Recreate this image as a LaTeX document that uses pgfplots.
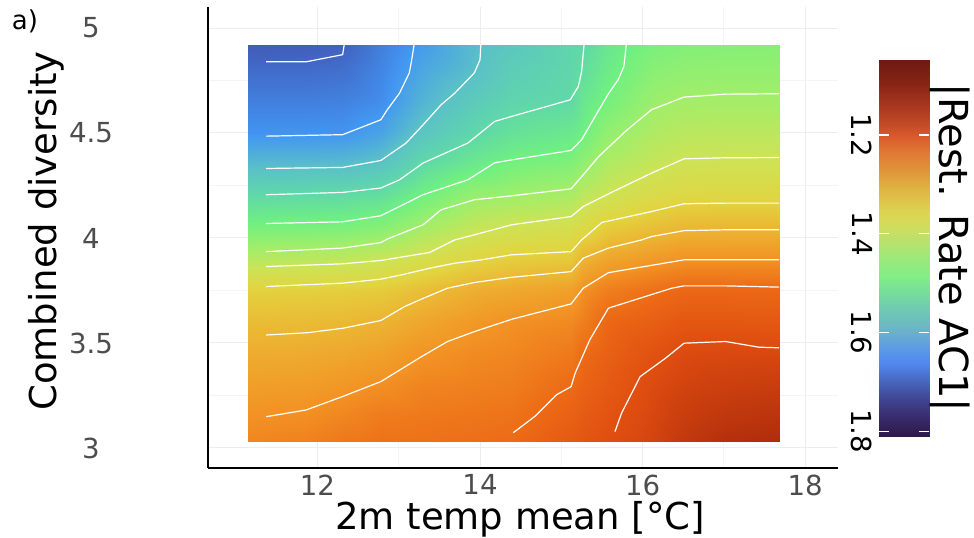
\documentclass[border=0pt]{standalone}
\usepackage{fontspec}
\setmainfont{DejaVu Sans}
\usepackage{pgfplots}
\pgfplotsset{compat=1.18}
\definecolor{ticktext}{HTML}{4D4D4D}

% heatmap colours, position = 1000*value - 1048
\pgfplotsset{
  colormap={heat}{
    rgb255(0pt)=(122,4,3); rgb255(52pt)=(180,48,12); rgb255(102pt)=(222,76,16);
    rgb255(152pt)=(236,106,22); rgb255(202pt)=(242,146,36); rgb255(252pt)=(236,180,50);
    rgb255(302pt)=(226,212,64); rgb255(352pt)=(204,227,86); rgb255(402pt)=(160,238,106);
    rgb255(452pt)=(112,240,128); rgb255(502pt)=(96,216,168); rgb255(552pt)=(90,192,200);
    rgb255(602pt)=(66,150,242); rgb255(652pt)=(66,102,196); rgb255(702pt)=(66,69,154);
    rgb255(762pt)=(48,18,59)},
  colormap={cbmap}{
    rgb255(0pt)=(110,26,18); rgb255(47pt)=(136,36,21); rgb255(88pt)=(165,53,32);
    rgb255(128pt)=(194,74,37); rgb255(152pt)=(216,88,44); rgb255(182pt)=(224,117,52);
    rgb255(223pt)=(224,148,58); rgb255(263pt)=(223,181,67); rgb255(304pt)=(220,210,80);
    rgb255(331pt)=(212,220,90); rgb255(358pt)=(192,224,104); rgb255(398pt)=(160,232,120);
    rgb255(439pt)=(130,238,136); rgb255(466pt)=(120,224,152); rgb255(500pt)=(112,204,176);
    rgb255(552pt)=(106,176,204); rgb255(587pt)=(90,152,232); rgb255(614pt)=(82,136,240);
    rgb255(655pt)=(70,98,184); rgb255(695pt)=(62,62,136); rgb255(736pt)=(53,36,96);
    rgb255(762pt)=(46,26,72)},
  contour/.style={white, line width=0.6pt, no markers, solid},
}

\pgfplotstableread{
x y v
11.15 3.03 1.235
11.86 3.03 1.229
12.31 3.03 1.217
12.78 3.03 1.210
13.30 3.03 1.210
13.93 3.03 1.205
14.39 3.03 1.201
15.12 3.03 1.172
15.27 3.03 1.166
15.58 3.03 1.153
16.11 3.03 1.136
16.51 3.03 1.115
17.02 3.03 1.100
17.68 3.03 1.095

11.15 3.15 1.250
11.86 3.15 1.246
12.31 3.15 1.235
12.78 3.15 1.222
13.30 3.15 1.218
13.93 3.15 1.215
14.39 3.15 1.211
15.12 3.15 1.185
15.27 3.15 1.176
15.58 3.15 1.162
16.11 3.15 1.141
16.51 3.15 1.124
17.02 3.15 1.113
17.68 3.15 1.107

11.15 3.30 1.269
11.86 3.30 1.266
12.31 3.30 1.258
12.78 3.30 1.247
13.30 3.30 1.233
13.93 3.30 1.228
14.39 3.30 1.224
15.12 3.30 1.201
15.27 3.30 1.188
15.58 3.30 1.173
16.11 3.30 1.147
16.51 3.30 1.135
17.02 3.30 1.128
17.68 3.30 1.124

11.15 3.45 1.289
11.86 3.45 1.287
12.31 3.45 1.282
12.78 3.45 1.273
13.30 3.45 1.253
13.93 3.45 1.241
14.39 3.45 1.236
15.12 3.45 1.220
15.27 3.45 1.201
15.58 3.45 1.184
16.11 3.45 1.160
16.51 3.45 1.146
17.02 3.45 1.144
17.68 3.45 1.143

11.15 3.60 1.313
11.86 3.60 1.311
12.31 3.60 1.307
12.78 3.60 1.299
13.30 3.60 1.280
13.93 3.60 1.260
14.39 3.60 1.249
15.12 3.60 1.239
15.27 3.60 1.225
15.58 3.60 1.195
16.11 3.60 1.181
16.51 3.60 1.168
17.02 3.60 1.168
17.68 3.60 1.171

11.15 3.75 1.346
11.86 3.75 1.344
12.31 3.75 1.342
12.78 3.75 1.336
13.30 3.75 1.315
13.93 3.75 1.292
14.39 3.75 1.284
15.12 3.75 1.271
15.27 3.75 1.248
15.58 3.75 1.225
16.11 3.75 1.207
16.51 3.75 1.196
17.02 3.75 1.196
17.68 3.75 1.197

11.15 3.90 1.425
11.86 3.90 1.421
12.31 3.90 1.415
12.78 3.90 1.404
13.30 3.90 1.383
13.93 3.90 1.353
14.39 3.90 1.341
15.12 3.90 1.332
15.27 3.90 1.299
15.58 3.90 1.278
16.11 3.90 1.261
16.51 3.90 1.251
17.02 3.90 1.251
17.68 3.90 1.251

11.15 4.05 1.493
11.86 4.05 1.491
12.31 4.05 1.489
12.78 4.05 1.478
13.30 4.05 1.445
13.93 4.05 1.410
14.39 4.05 1.395
15.12 4.05 1.384
15.27 4.05 1.367
15.58 4.05 1.338
16.11 4.05 1.318
16.51 4.05 1.306
17.02 4.05 1.304
17.68 4.05 1.304

11.15 4.20 1.548
11.86 4.20 1.546
12.31 4.20 1.544
12.78 4.20 1.536
13.30 4.20 1.498
13.93 4.20 1.458
14.39 4.20 1.450
15.12 4.20 1.437
15.27 4.20 1.417
15.58 4.20 1.396
16.11 4.20 1.370
16.51 4.20 1.359
17.02 4.20 1.358
17.68 4.20 1.358

11.15 4.35 1.606
11.86 4.35 1.605
12.31 4.35 1.604
12.78 4.35 1.593
13.30 4.35 1.548
13.93 4.35 1.515
14.39 4.35 1.494
15.12 4.35 1.482
15.27 4.35 1.464
15.58 4.35 1.432
16.11 4.35 1.407
16.51 4.35 1.394
17.02 4.35 1.393
17.68 4.35 1.393

11.15 4.50 1.652
11.86 4.50 1.652
12.31 4.50 1.651
12.78 4.50 1.634
13.30 4.50 1.589
13.93 4.50 1.554
14.39 4.50 1.531
15.12 4.50 1.517
15.27 4.50 1.502
15.58 4.50 1.463
16.11 4.50 1.432
16.51 4.50 1.421
17.02 4.50 1.419
17.68 4.50 1.419

11.15 4.65 1.673
11.86 4.65 1.673
12.31 4.65 1.671
12.78 4.65 1.658
13.30 4.65 1.613
13.93 4.65 1.578
14.39 4.65 1.557
15.12 4.65 1.548
15.27 4.65 1.521
15.58 4.65 1.493
16.11 4.65 1.455
16.51 4.65 1.446
17.02 4.65 1.444
17.68 4.65 1.444

11.15 4.80 1.694
11.86 4.80 1.694
12.31 4.80 1.690
12.78 4.80 1.667
13.30 4.80 1.629
13.93 4.80 1.601
14.39 4.80 1.573
15.12 4.80 1.553
15.27 4.80 1.540
15.58 4.80 1.510
16.11 4.80 1.474
16.51 4.80 1.466
17.02 4.80 1.464
17.68 4.80 1.464

11.15 4.92 1.715
11.86 4.92 1.712
12.31 4.92 1.705
12.78 4.92 1.674
13.30 4.92 1.643
13.93 4.92 1.605
14.39 4.92 1.585
15.12 4.92 1.556
15.27 4.92 1.551
15.58 4.92 1.521
16.11 4.92 1.490
16.51 4.92 1.480
17.02 4.92 1.478
17.68 4.92 1.476
}\rategrid

\begin{document}
\begin{tikzpicture}
\path[use as bounding box] (-103.85pt,-34.65pt) rectangle (383.15pt,233.85pt);
\begin{axis}[
  at={(0pt,0pt)}, anchor=south west,
  scale only axis, width=315pt, height=230.35pt,
  xmin=10.65, xmax=18.4, ymin=2.906, ymax=5.10,
  xtick={12,14,16,18}, ytick={3,3.5,4,4.5,5},
  minor x tick num=1, minor y tick num=1,
  grid=both,
  major grid style={draw=gray!14, line width=0.5pt},
  minor grid style={draw=gray!9, line width=0.4pt},
  major tick length=0pt, minor tick length=0pt,
  axis lines*=left,
  axis line style={black, line width=0.9pt},
  tick label style={font=\fontsize{13.8}{16}\selectfont, text=ticktext},
  yticklabel style={anchor=center, xshift=-58.35pt},
  /pgf/number format/assume math mode=true,
  xlabel={2m temp mean [°C]},
  ylabel={Combined diversity},
  label style={font=\fontsize{18.5}{22}\selectfont, text=black},
  xlabel style={at={(axis description cs:0.496,-0.1352)}, anchor=base},
  ylabel style={at={(axis description cs:-0.2567,0.514)}, anchor=center},
  colormap name=heat,
  point meta min=1.048, point meta max=1.81,
]
\addplot[surf, shader=interp, mesh/cols=14, point meta=explicit]
  table[x=x, y=y, meta=v] {\rategrid};

% contour lines, levels 1.70 down to 1.15 in steps of 0.05
\addplot[contour] coordinates {(11.37,4.839)(11.86,4.839)(12.31,4.873)(12.33,4.922)};
\addplot[contour] coordinates {(11.37,4.485)(12.31,4.492)(12.78,4.563)(12.86,4.611)(13.01,4.690)(13.13,4.786)(13.16,4.849)(13.19,4.922)};
\addplot[contour] coordinates {(11.37,4.331)(12.31,4.336)(12.78,4.369)(13.09,4.452)(13.30,4.539)(13.52,4.634)(13.69,4.690)(13.93,4.786)(14.00,4.849)(14.01,4.922)};
\addplot[contour] coordinates {(11.37,4.206)(12.31,4.217)(12.78,4.238)(13.01,4.277)(13.30,4.357)(13.85,4.452)(14.18,4.555)(14.39,4.579)(15.11,4.658)(15.21,4.722)(15.25,4.793)(15.28,4.922)};
\addplot[contour] coordinates {(11.37,4.069)(12.31,4.077)(12.78,4.106)(13.30,4.206)(13.85,4.277)(14.18,4.358)(14.39,4.372)(15.12,4.417)(15.25,4.468)(15.44,4.595)(15.58,4.687)(15.70,4.754)(15.77,4.817)(15.80,4.922)};
\addplot[contour] coordinates {(11.37,3.935)(12.31,3.952)(12.78,3.978)(12.86,3.995)(13.30,4.063)(13.52,4.134)(13.93,4.182)(14.39,4.201)(15.12,4.234)(15.27,4.301)(15.46,4.388)(15.60,4.439)(15.81,4.515)(16.11,4.611)(16.51,4.671)(17.02,4.685)(17.68,4.687)};
\addplot[contour] coordinates {(11.37,3.864)(12.31,3.877)(12.78,3.893)(13.38,3.931)(13.69,3.991)(13.93,4.015)(14.39,4.063)(15.12,4.102)(15.27,4.150)(15.60,4.214)(16.11,4.309)(16.51,4.377)(17.02,4.382)(17.68,4.383)};
\addplot[contour] coordinates {(11.37,3.769)(12.31,3.785)(12.78,3.804)(13.03,3.824)(13.38,3.856)(13.69,3.880)(14.02,3.896)(14.39,3.920)(15.12,3.935)(15.25,3.991)(15.50,4.074)(16.11,4.126)(16.51,4.163)(17.02,4.166)(17.68,4.166)};
\addplot[contour] coordinates {(11.37,3.538)(11.88,3.549)(12.31,3.570)(12.78,3.607)(13.07,3.673)(13.28,3.709)(13.60,3.761)(13.93,3.788)(14.39,3.813)(15.12,3.840)(15.27,3.904)(15.58,3.952)(15.99,3.991)(16.11,4.007)(16.51,4.035)(17.02,4.039)(17.68,4.039)};
\addplot[contour] coordinates {(11.37,3.149)(11.86,3.181)(12.31,3.245)(12.78,3.316)(13.28,3.435)(13.60,3.507)(13.93,3.554)(14.39,3.613)(15.12,3.686)(15.27,3.761)(15.58,3.835)(16.51,3.896)(17.68,3.896)};
\addplot[contour] coordinates {(14.41,3.073)(14.67,3.149)(14.94,3.253)(15.12,3.292)(15.17,3.356)(15.35,3.515)(15.58,3.666)(16.36,3.761)(16.51,3.772)(17.02,3.772)(17.68,3.766)};
\addplot[contour] coordinates {(15.66,3.078)(15.74,3.165)(15.97,3.340)(16.28,3.427)(16.51,3.499)(17.02,3.507)(17.43,3.480)(17.68,3.477)};
\end{axis}

% colour key
\begin{axis}[
  at={(335.8pt,15.7pt)}, anchor=south west,
  scale only axis, width=25pt, height=188.2pt,
  xmin=0, xmax=1, ymin=1.048, ymax=1.81,
  y dir=reverse,
  axis on top,
  axis line style={draw=none},
  xtick=\empty,
  ytick={1.2,1.4,1.6,1.8},
  yticklabel pos=left,
  ytick pos=both,
  tick align=inside,
  major tick length=5pt,
  ytick style={draw=white, line width=0.6pt},
  yticklabel style={rotate=-90, anchor=north,
    font=\fontsize{13.8}{16}\selectfont, text=black},
  /pgf/number format/assume math mode=true,
  colormap name=cbmap,
  point meta min=1.048, point meta max=1.81,
]
\addplot[surf, shader=interp, mesh/cols=2, point meta=y] coordinates {
(0,1.048) (1,1.048)

(0,1.10) (1,1.10)

(0,1.15) (1,1.15)

(0,1.20) (1,1.20)

(0,1.25) (1,1.25)

(0,1.30) (1,1.30)

(0,1.35) (1,1.35)

(0,1.40) (1,1.40)

(0,1.45) (1,1.45)

(0,1.50) (1,1.50)

(0,1.55) (1,1.55)

(0,1.60) (1,1.60)

(0,1.65) (1,1.65)

(0,1.70) (1,1.70)

(0,1.75) (1,1.75)

(0,1.81) (1,1.81)
};
\end{axis}
\node[font=\fontsize{13}{15}\selectfont, anchor=center] at (-91.35pt,223.35pt) {a)};
\node[font=\fontsize{20}{24}\selectfont, rotate=-90, anchor=south, inner sep=0pt]
  at (361pt,109.85pt) {|Rest. Rate AC1|};
\end{tikzpicture}
\end{document}
